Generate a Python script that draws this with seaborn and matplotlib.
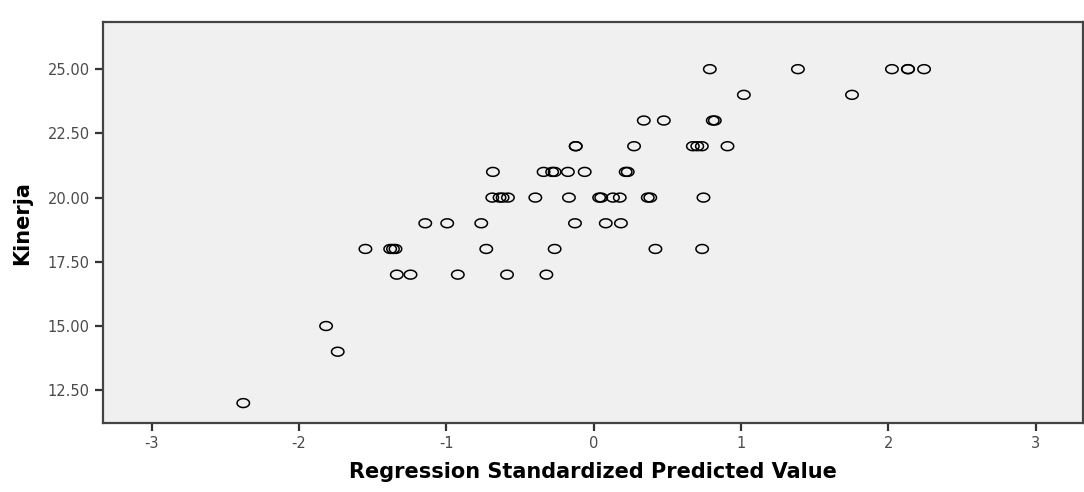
import numpy as np
import pandas as pd
import matplotlib
matplotlib.use("Agg")
import matplotlib.pyplot as plt
from matplotlib.path import Path
from matplotlib.ticker import FormatStrFormatter
import seaborn as sns

pred = [0.788, 1.386, 2.024, 2.133, 2.133, 2.242,                      # 25
        1.019, 1.753,                                                  # 24
        0.340, 0.476, 0.808, 0.822,                                    # 23
        -0.122, -0.122, 0.274, 0.673, 0.703, 0.734, 0.908,             # 22
        -0.684, -0.340, -0.282, -0.265, -0.175, -0.061, 0.217, 0.231,  # 21
        -0.688, -0.639, -0.618, -0.582, -0.396, -0.168, 0.037, 0.051,
        0.131, 0.177, 0.367, 0.384, 0.745,                             # 20
        -1.143, -0.994, -0.763, -0.127, 0.082, 0.185,                  # 19
        -1.549, -1.381, -1.362, -1.345, -0.729, -0.265, 0.419, 0.736,  # 18
        -1.336, -1.243, -0.922, -0.588, -0.321,                        # 17
        -1.816, -1.737, -2.378]                                        # 15, 14, 12
kinerja = ([25] * 6 + [24] * 2 + [23] * 4 + [22] * 7 + [21] * 8 + [20] * 13
           + [19] * 6 + [18] * 8 + [17] * 5 + [15, 14, 12])

x_ticks = [-3, -2, -1, 0, 1, 2, 3]
y_ticks = [12.5, 15.0, 17.5, 20.0, 22.5, 25.0]

df = pd.DataFrame({"pred": pred, "kinerja": kinerja})

sns.set_style("white")
plt.rcParams["font.family"] = ["DejaVu Sans"]
plt.rcParams["axes.unicode_minus"] = False

fig = plt.figure(figsize=(10.84, 4.92), dpi=100)
ax = fig.add_axes([0.095, 0.140, 0.904, 0.815])
ax.set_facecolor("#f0f0f0")

# SPSS circles look a bit wider than tall
t = np.linspace(0, 2 * np.pi, 61)
oval = Path(np.column_stack([1.4 * np.cos(t), np.sin(t)]), closed=True)

sns.scatterplot(data=df, x="pred", y="kinerja", ax=ax, marker=oval, s=80,
                facecolors="none", edgecolors="black", linewidth=1.1)
pts = ax.collections[0]
pts.set_facecolor("none")
pts.set_edgecolor("black")

ax.set_xlim(-3.33, 3.32)
ax.set_ylim(11.22, 26.83)
ax.set_xticks(x_ticks)
ax.set_yticks(y_ticks)
ax.yaxis.set_major_formatter(FormatStrFormatter("%.2f"))
ax.tick_params(direction="out", length=6, width=1.6, color="#333333",
               labelsize=10.5, labelcolor="#4a4a4a", left=True, bottom=True)

for s in ax.spines.values():
    s.set_color("#444444")
    s.set_linewidth(1.6)

ax.set_xlabel("Regression Standardized Predicted Value", fontsize=15,
              fontweight="bold", color="black", labelpad=8)
ax.set_ylabel("Kinerja", fontsize=15, fontweight="bold", color="black",
              labelpad=11)

plt.savefig("out.png", dpi=100)
